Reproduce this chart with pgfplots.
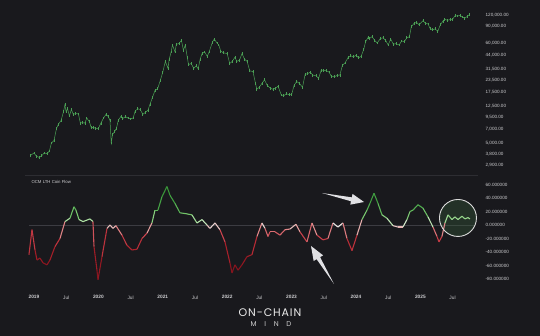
\documentclass[border=0pt]{standalone}
\usepackage{pgfplots}
\pgfplotsset{compat=1.18}
\usepackage{pgfplotstable}
\usepackage{fontspec}
\setmainfont{Liberation Sans}
\newfontfamily\logofont[LetterSpace=8]{Poppins}
\newfontfamily\logofontwide[LetterSpace=110]{Poppins}
\usetikzlibrary{calc}
\definecolor{bg}{RGB}{25,25,29}
\definecolor{sep}{RGB}{45,45,50}
\definecolor{lbl}{RGB}{205,205,208}
\definecolor{pricec}{RGB}{75,160,85}
\definecolor{zeroc}{RGB}{60,60,66}
\definecolor{arrowc}{RGB}{225,225,228}
\definecolor{circfill}{RGB}{55,95,60}

\pgfplotstableread{
t p
2018.95 3700
2019.00 3900
2019.04 3600
2019.08 3500
2019.12 3650
2019.16 3900
2019.20 3850
2019.24 4100
2019.27 5000
2019.31 5300
2019.35 7200
2019.38 8000
2019.42 8700
2019.46 11000
2019.48 12900
2019.50 10800
2019.52 11800
2019.55 9800
2019.58 11500
2019.61 10200
2019.65 10400
2019.69 10300
2019.72 8200
2019.75 8300
2019.79 8200
2019.82 9300
2019.86 8500
2019.89 7300
2019.92 7400
2019.96 7200
2020.00 7200
2020.04 8200
2020.08 9300
2020.12 10200
2020.15 9700
2020.18 8800
2020.20 5000
2020.22 6200
2020.25 6600
2020.28 7200
2020.31 8800
2020.35 9700
2020.38 9200
2020.42 9600
2020.46 9300
2020.50 9100
2020.54 9300
2020.57 11000
2020.61 11700
2020.65 11500
2020.69 10200
2020.73 10700
2020.77 11300
2020.80 13000
2020.84 15500
2020.88 18500
2020.92 19200
2020.96 23500
2021.00 29000
2021.04 38000
2021.08 32000
2021.10 40000
2021.13 48000
2021.15 57000
2021.19 48000
2021.21 58000
2021.25 59000
2021.29 64000
2021.32 50000
2021.35 57000
2021.38 42000
2021.40 35000
2021.44 36000
2021.48 32000
2021.52 34000
2021.55 31500
2021.58 40000
2021.61 46000
2021.65 48000
2021.69 43000
2021.72 48000
2021.77 61000
2021.80 66000
2021.84 60000
2021.87 57000
2021.90 49000
2021.94 47000
2022.00 46000
2022.04 36000
2022.08 38000
2022.12 42000
2022.15 38000
2022.19 39000
2022.23 46000
2022.27 40000
2022.31 38000
2022.35 30000
2022.40 29500
2022.44 22000
2022.46 19000
2022.50 20000
2022.54 22000
2022.58 24000
2022.62 21000
2022.67 19500
2022.71 19000
2022.75 19500
2022.79 20500
2022.84 16500
2022.88 16200
2022.92 17000
2022.96 16600
2023.00 16600
2023.04 21000
2023.08 23000
2023.12 22000
2023.17 20000
2023.21 27500
2023.25 28000
2023.29 29000
2023.33 27000
2023.38 26500
2023.42 25000
2023.46 30500
2023.50 30400
2023.54 30000
2023.58 29200
2023.62 26000
2023.67 26000
2023.71 26800
2023.75 27000
2023.79 34500
2023.83 36500
2023.88 42000
2023.92 43500
2023.96 42500
2024.00 44000
2024.04 41500
2024.08 43000
2024.12 51000
2024.15 62000
2024.19 69000
2024.21 67000
2024.25 70000
2024.29 64000
2024.33 60000
2024.38 67000
2024.42 68000
2024.46 64000
2024.50 57000
2024.54 66000
2024.58 58000
2024.62 59000
2024.67 57000
2024.71 63000
2024.75 62000
2024.79 68000
2024.83 70000
2024.86 90000
2024.90 97000
2024.94 100000
2024.98 94000
2025.04 104000
2025.08 98000
2025.12 96000
2025.15 86000
2025.19 83000
2025.23 85000
2025.27 80000
2025.31 94000
2025.35 103000
2025.38 108000
2025.42 105000
2025.46 107000
2025.50 108000
2025.54 118000
2025.58 117000
2025.62 119000
2025.65 114000
2025.69 111000
2025.73 116000
2025.76 121000
}\pricetable

\pgfplotstableread{
t v
2018.922 -44
2018.969 -7
2019.016 -37
2019.047 -52
2019.093 -49
2019.140 -56
2019.202 -59
2019.248 -52
2019.326 -32
2019.404 -20
2019.481 5
2019.559 10
2019.621 27
2019.652 22
2019.699 8
2019.761 5
2019.870 9
2019.916 5
2019.932 -32
2019.978 -67
2019.994 -81
2020.056 -47
2020.134 -5
2020.180 0
2020.227 -5
2020.273 -1
2020.366 -15
2020.444 -30
2020.522 -37
2020.599 -36
2020.677 -20
2020.755 -12
2020.832 3
2020.879 22
2020.925 22
2020.988 42
2021.065 57
2021.112 44
2021.189 32
2021.267 18
2021.345 17
2021.453 15
2021.531 3
2021.609 8
2021.686 0
2021.733 -5
2021.811 3
2021.888 -7
2021.966 -25
2022.043 -56
2022.075 -71
2022.121 -59
2022.168 -67
2022.230 -59
2022.307 -47
2022.385 -44
2022.463 -17
2022.540 3
2022.587 -5
2022.634 -17
2022.665 -10
2022.742 -10
2022.820 -15
2022.898 -7
2022.975 -6
2023.068 1
2023.130 -10
2023.239 -25
2023.317 3
2023.394 -15
2023.488 -22
2023.565 -20
2023.643 3
2023.720 -3
2023.798 3
2023.860 -20
2023.938 -38
2024.016 -15
2024.093 8
2024.171 22
2024.217 32
2024.280 47
2024.342 32
2024.404 15
2024.481 10
2024.575 -1
2024.652 -3
2024.730 -3
2024.792 8
2024.839 20
2024.885 22
2024.963 30
2025.040 25
2025.118 12
2025.196 -3
2025.258 -17
2025.289 -25
2025.335 -17
2025.382 3
2025.429 15
2025.491 8
2025.537 12
2025.584 8
2025.646 13
2025.693 9
2025.739 11
2025.770 9
}\osctable

\pgfplotsset{
  colormap={osc}{
    rgb255(0cm)=(135,20,30)
    rgb255(2.5cm)=(175,35,45)
    rgb255(4.5cm)=(205,70,80)
    rgb255(5.5cm)=(228,150,150)
    rgb255(6cm)=(232,228,225)
    rgb255(6.5cm)=(185,230,175)
    rgb255(7.5cm)=(120,200,110)
    rgb255(9cm)=(70,165,70)
    rgb255(12cm)=(50,140,50)
  }
}

\begin{document}
\begin{tikzpicture}[x=1pt,y=1pt]
\fill[bg] (0,0) rectangle (540,336);
\draw[sep, line width=0.6pt] (25,161) -- (478,161);

% price panel
\begin{axis}[
  at={(21.1pt,164pt)}, anchor=south west,
  scale only axis, width=454pt, height=167pt,
  xmin=2018.8, xmax=2025.85,
  ymode=log, ymin=2436, ymax=153800,
  axis line style={draw=none}, tick style={draw=none},
  xtick=\empty,
  ytick={2900,3800,5000,7000,9500,12500,17500,23500,31500,44000,60000,90000,120000},
  yticklabels={{2,900.00},{3,800.00},{5,000.00},{7,000.00},{9,500.00},{12,500.00},{17,500.00},{23,500.00},{31,500.00},{44,000.00},{60,000.00},{90,000.00},{120,000.00}},
  yticklabel pos=right,
  yticklabel style={anchor=west, font=\fontsize{4.6}{5}\selectfont, text=lbl, xshift=7pt},
]
\addplot[color=pricec, line width=0.5pt,
  error bars/.cd, y dir=both, y fixed relative=0.035,
  error bar style={color=pricec, line width=0.7pt}, error mark=none]
  table[x=t, y=p] {\pricetable};
\end{axis}

% oscillator panel
\begin{axis}[
  at={(21.1pt,46pt)}, anchor=south west,
  scale only axis, width=454pt, height=112pt,
  xmin=2018.8, xmax=2025.85,
  ymin=-96.3, ymax=69.6,
  axis line style={draw=none}, tick style={draw=none},
  xtick={2019,2019.5,2020,2020.5,2021,2021.5,2022,2022.5,2023,2023.5,2024,2024.5,2025,2025.5},
  xticklabels={{\bfseries 2019},Jul,{\bfseries 2020},Jul,{\bfseries 2021},Jul,{\bfseries 2022},Jul,{\bfseries 2023},Jul,{\bfseries 2024},Jul,{\bfseries 2025},Jul},
  xticklabel style={font=\fontsize{4.8}{5}\selectfont, text=lbl, yshift=-2pt},
  ytick={-80,-60,-40,-20,0,20,40,60},
  yticklabels={-80.000000,-60.000000,-40.000000,-20.000000,0.000000,20.000000,40.000000,60.000000},
  yticklabel pos=right,
  yticklabel style={anchor=west, font=\fontsize{4.6}{5}\selectfont, text=lbl, xshift=7pt},
  colormap name=osc, point meta min=-60, point meta max=60,
  clip=false,
]
\draw[zeroc, line width=0.4pt] (axis cs:2018.93,0) -- (axis cs:2025.85,0);
\fill[circfill, fill opacity=0.35] (axis cs:2025.584,10.4) circle[radius=18.5pt];
\addplot[mesh, line width=1.1pt, point meta=\thisrow{v}] table[x=t, y=v] {\osctable};
\draw[white!85!black, line width=0.9pt] (axis cs:2025.584,10.4) circle[radius=18.5pt];
\end{axis}

\node[anchor=west, font=\fontsize{4.3}{5}\selectfont, text=lbl] at (28,154) {OCM LTH Coin Flow};

% annotation arrows
\coordinate (A1) at (322,143); \coordinate (B1) at (364,134);
\coordinate (M1) at ($(A1)!0.70!(B1)$);
\fill[arrowc] (A1) -- ($(M1)!2pt!90:(B1)$) -- ($(M1)!5.5pt!90:(B1)$) -- (B1) -- ($(M1)!5.5pt!-90:(B1)$) -- ($(M1)!2pt!-90:(B1)$) -- cycle;
\coordinate (A2) at (334,52); \coordinate (B2) at (311,90);
\coordinate (M2) at ($(A2)!0.68!(B2)$);
\fill[arrowc] (A2) -- ($(M2)!2pt!90:(B2)$) -- ($(M2)!5.5pt!90:(B2)$) -- (B2) -- ($(M2)!5.5pt!-90:(B2)$) -- ($(M2)!2pt!-90:(B2)$) -- cycle;

% logo
\node[font=\logofont\fontsize{11}{12}\selectfont, text=white!92!black] at (270,23) {ON-CHAIN};
\node[font=\logofontwide\fontsize{7}{8}\selectfont, text=white!80!black] at (271,11.5) {MIND};
\end{tikzpicture}
\end{document}
